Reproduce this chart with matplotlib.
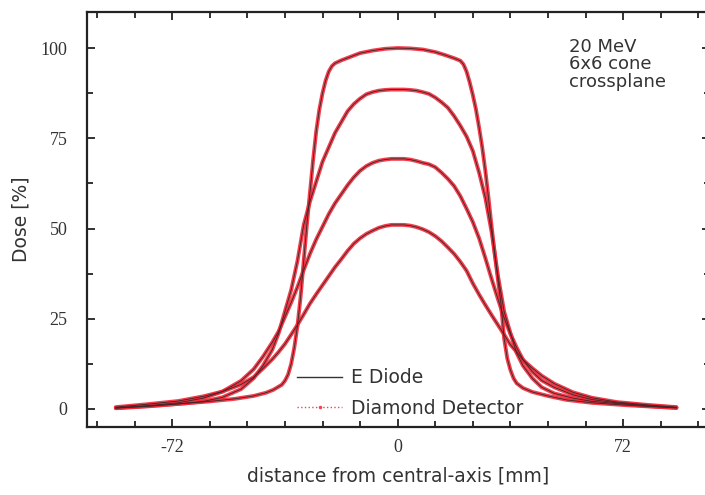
import numpy as np
import matplotlib
matplotlib.use('Agg')
import matplotlib.pyplot as plt
from matplotlib.lines import Line2D
from matplotlib.ticker import MultipleLocator, FixedLocator

plt.rcParams['axes.unicode_minus'] = False

# off-axis distance [mm] and dose [%] for the four depth profiles
x_1 = [-90, -80, -70, -60, -52, -46, -42, -39.7, -37, -36, -35, -34, -33, -32, -31, -30, -29,
       -28, -27, -26, -25, -24, -23, -22, -21, -20, -18, -15, -12, -8, -4, 0, 4, 8, 12, 15, 18,
       20, 21, 22, 23, 24, 25, 26, 27, 28, 29, 30, 31, 32, 33, 34, 35, 36, 37, 38, 40, 43, 48,
       54, 62, 72, 80, 89]
dose_1 = [0.2, 0.7, 1.4, 2.1, 2.8, 3.6, 4.5, 5.3, 6.7, 7.8, 9.5, 12.5, 17, 23, 31, 41, 51,
          60, 69, 77, 83, 87.5, 91, 93.5, 95, 95.8, 96.6, 97.6, 98.6, 99.3, 99.8, 100, 99.9, 99.6, 98.9, 98.1, 97.2,
          96.5, 95.5, 93.5, 90.5, 87, 83, 78, 72.5, 66, 58.5, 50.5, 43, 36, 29, 19.5, 14, 10.8, 8.5, 7.1, 5.8, 4.7, 3.6,
          2.5, 1.7, 1.1, 0.7, 0.3]

x_2 = [-90, -80, -70, -62, -56, -50, -46, -43, -40, -38, -36, -34, -32, -30, -28, -26, -24,
       -22, -20, -18, -16, -14, -12, -10, -8, -6, -4, -2, 0, 2, 4, 6, 8, 10, 12, 14, 16, 18,
       20, 22, 24, 26, 28, 30, 32, 34, 36, 38, 40, 43, 46, 50, 56, 62, 70, 80, 89]
dose_2 = [0.3, 0.8, 1.4, 2.1, 3.2, 5.5, 8.5, 12, 16.5, 21, 27, 33, 41, 51, 57.5, 63, 68.5,
          72.5, 76.5, 79.5, 82.5, 84.5, 86, 87.2, 87.8, 88.2, 88.4, 88.5, 88.5, 88.5, 88.4, 88.2, 87.8, 87.3, 86.3, 85, 83.5, 81.2,
          78.5, 75.5, 71.5, 65.5, 58.5, 49, 37, 27, 21, 15.5, 12, 8.5, 6, 4.3, 3, 2.1, 1.5, 0.8, 0.3]

x_3 = [-90, -80, -70, -62, -56, -50, -46, -43, -40, -38, -36, -34, -32, -30, -28, -26, -24,
       -22, -20, -18, -16, -14, -12, -10, -8, -6, -4, -2, 0, 2, 4, 6, 8, 10, 12, 14, 16, 18,
       20, 22, 24, 26, 28, 30, 32, 34, 36, 38, 40, 43, 46, 50, 56, 62, 70, 80, 89]
dose_3 = [0.3, 0.9, 1.7, 3, 4.8, 7.8, 11, 14.5, 18.5, 21.5, 25.5, 29.5, 33.8, 38.5, 43, 47, 50.5,
          54, 57, 59.5, 62, 64.2, 66, 67.3, 68.2, 68.8, 69.1, 69.3, 69.3, 69.3, 69.1, 68.7, 68.2, 67.8, 67, 65.5, 63.8, 61.8,
          59, 55.5, 51.8, 47.3, 41.8, 36, 30.5, 25.2, 20.8, 17, 13.7, 10.3, 7.9, 6, 3.9, 2.6, 1.7, 0.9, 0.4]

x_4 = [-90, -80, -70, -62, -56, -50, -46, -43, -40, -38, -36, -34, -32, -30, -28, -26, -24,
       -22, -20, -18, -16, -14, -12, -10, -8, -6, -4, -2, 0, 2, 4, 6, 8, 10, 12, 14, 16, 18,
       20, 22, 24, 26, 28, 30, 32, 34, 36, 38, 40, 43, 46, 50, 56, 62, 70, 80, 89]
dose_4 = [0.5, 1.3, 2.2, 3.5, 4.8, 6.8, 8.8, 11.2, 13.8, 15.8, 18, 20.6, 23.3, 26.2, 29.2, 31.8, 34.3,
          36.8, 39.3, 41.5, 43.8, 45.8, 47.3, 48.5, 49.4, 50.2, 50.7, 51, 51, 51, 50.8, 50.4, 49.8, 49, 47.9, 46.5, 44.8, 43,
          40.8, 38.3, 34.8, 31.7, 28.8, 26, 23.3, 20.6, 17.8, 15.8, 13.6, 11.3, 9.2, 7, 4.6, 3.1, 1.9, 1.1, 0.5]

profiles = [(x_1, dose_1), (x_2, dose_2), (x_3, dose_3), (x_4, dose_4)]

sans = ['DejaVu Sans']
serif = 'Liberation Serif'
txt = '#333333'

fig = plt.figure(figsize=(7.05, 4.95), dpi=100)
ax = fig.add_axes([0.1234, 0.1374, 0.884, 0.8384])

# diamond detector (broad red), e diode (thin dark line on top)
for xs, d in profiles:
    ax.plot(xs, d, color='#f02a3a', lw=2.8, alpha=0.9, solid_capstyle='round',
            solid_joinstyle='round')
for xs, d in profiles:
    ax.plot(xs, d, color='#3a2626', lw=0.6)

ax.set_xlim(-99.2, 99.8)
ax.set_ylim(-5, 110)

ax.xaxis.set_major_locator(FixedLocator([-72, 0, 72]))
ax.xaxis.set_minor_locator(MultipleLocator(12))
ax.yaxis.set_major_locator(MultipleLocator(25))
ax.yaxis.set_minor_locator(MultipleLocator(12.5))
ax.tick_params(which='both', direction='in', top=True, right=True, width=1.3,
               color='#222222')
ax.tick_params(which='major', length=6)
ax.tick_params(which='minor', length=4)
ax.tick_params(axis='x', pad=9)
ax.tick_params(axis='y', pad=14)
for lab in ax.get_xticklabels() + ax.get_yticklabels():
    lab.set_family(serif)
    lab.set_fontsize(13)
    lab.set_color(txt)
for sp in ax.spines.values():
    sp.set_linewidth(1.6)
    sp.set_color('#222222')

ax.set_xlabel('distance from central-axis [mm]', family=sans,
              fontsize=13.5, color=txt, labelpad=7)
ax.set_ylabel('Dose [%]', family=sans, fontsize=13.5,
              color=txt, labelpad=7)

ax.text(0.773, 0.938, '20 MeV\n6x6 cone\ncrossplane', transform=ax.transAxes,
        family=sans, fontsize=13, color=txt, va='top', linespacing=0.98)

handles = [Line2D([], [], color='#333333', lw=1),
           Line2D([], [], color='#ee4455', lw=1, ls=':', marker='.', markersize=3)]
ax.legend(handles, ['E Diode', 'Diamond Detector'], loc='lower left',
          bbox_to_anchor=(0.31, -0.018), frameon=False, handlelength=2.4,
          prop={'family': sans, 'size': 13.5}, labelspacing=0.6,
          handletextpad=0.45, labelcolor=txt)

fig.savefig('out.png', dpi=100)
